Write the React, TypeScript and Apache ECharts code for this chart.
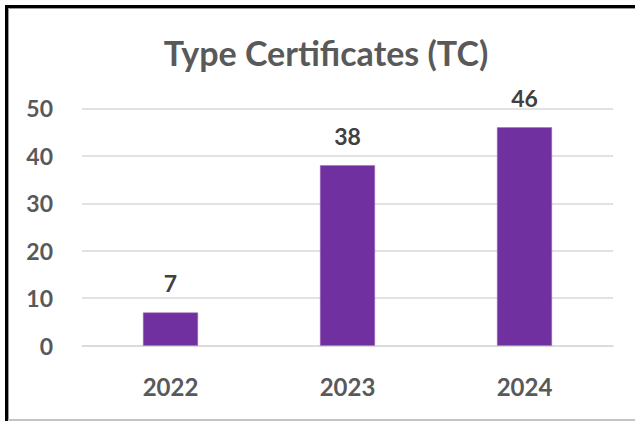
import React, { useEffect, useRef } from "react";
import * as echarts from "echarts";

const categories = ["2022", "2023", "2024"];
const values = [7, 38, 46];
const yTicks = { min: 0, max: 50, interval: 10 };
const titleText = "Type Certificates (TC)";

export default function App() {
  const ref = useRef<HTMLDivElement>(null);
  useEffect(() => {
    if (!ref.current) return;
    const chart = echarts.init(ref.current, null, { renderer: "svg" });
    const font = "Lato";
    chart.setOption({
      animation: false,
      backgroundColor: "#ffffff",
      title: {
        text: titleText,
        left: 321,
        textAlign: "center",
        top: 30,
        textStyle: { fontFamily: font, fontWeight: "bold", fontSize: 34, color: "#595959" },
      },
      grid: { left: 82, right: 22, top: 108.3, bottom: 75.3, containLabel: false },
      xAxis: {
        type: "category",
        data: categories,
        axisLine: { show: true, lineStyle: { color: "#d9d9d9", width: 1.5 } },
        axisTick: { show: false },
        axisLabel: { margin: 29, fontFamily: font, fontWeight: "bold", fontSize: 24, color: "#595959" },
      },
      yAxis: {
        type: "value",
        min: yTicks.min,
        max: yTicks.max,
        interval: yTicks.interval,
        axisLine: { show: false },
        axisTick: { show: false },
        splitLine: { lineStyle: { color: "#d9d9d9", width: 1.5 } },
        axisLabel: { margin: 29, fontFamily: font, fontWeight: "bold", fontSize: 23, color: "#595959" },
      },
      series: [
        {
          type: "bar",
          data: values,
          barWidth: 55,
          itemStyle: { color: "#7030a0", borderColor: "#9b6cc0", borderWidth: 0.5 },
          label: {
            show: true,
            position: "top",
            distance: 18,
            fontFamily: font,
            fontWeight: "bold",
            fontSize: 23,
            color: "#404040",
          },
        },
      ],
      graphic: [
        { type: "rect", shape: { x: 5, y: 5, width: 630, height: 3 }, style: { fill: "#000000" }, z: 100 },
        { type: "rect", shape: { x: 5, y: 5, width: 3, height: 416 }, style: { fill: "#000000" }, z: 100 },
        { type: "rect", shape: { x: 8, y: 8, width: 627, height: 1 }, style: { fill: "#9a9a9a" }, z: 100 },
        { type: "rect", shape: { x: 8, y: 8, width: 1, height: 413 }, style: { fill: "#9a9a9a" }, z: 100 },
        { type: "rect", shape: { x: 8, y: 419, width: 627, height: 2 }, style: { fill: "#c4c4c4" }, z: 100 },
      ],
    });
    return () => chart.dispose();
  }, []);
  return (
    <div style={{ position: "fixed", left: 0, top: 0, width: 635, height: 421, background: "#fff" }}>
      <div ref={ref} style={{ width: 635, height: 421 }} />
    </div>
  );
}
